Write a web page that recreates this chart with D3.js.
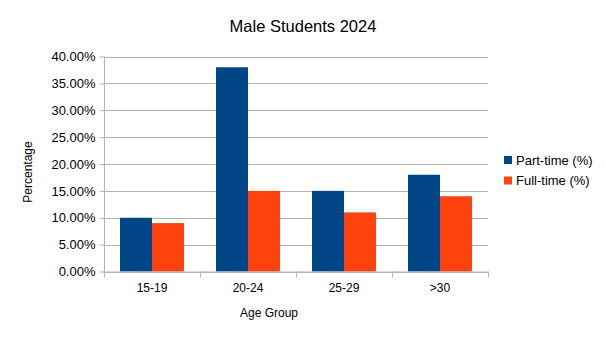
<!DOCTYPE html>
<html><head><meta charset="utf-8">
<script src="https://cdn.jsdelivr.net/npm/d3@7"></script>
<style>body{margin:0;background:#fff}svg{display:block;font-family:"Liberation Sans",Arial,sans-serif}</style>
</head><body><svg id="c" width="605" height="340"></svg>
<script>
const categories = ["15-19","20-24","25-29",">30"];
const partTime = [0.10,0.38,0.15,0.18];
const fullTime = [0.09,0.15,0.11,0.14];
const seriesNames = ["Part-time (%)","Full-time (%)"];
const seriesColors = ["#004586","#ff420e"];
const yTicks = [0,0.05,0.10,0.15,0.20,0.25,0.30,0.35,0.40];

const svg = d3.select("#c");
const L=104,R=488,T=56.5,B=271.5;
const x = d3.scaleBand().domain(categories).range([L,R]).padding(0);
const y = d3.scaleLinear().domain([0,0.40]).range([B,T]);
const gray="#b3b3b3";

// gridlines
svg.append("g").selectAll("line").data(yTicks).join("line")
  .attr("x1",L).attr("x2",R).attr("y1",d=>Math.round(y(d))+0.5).attr("y2",d=>Math.round(y(d))+0.5)
  .attr("stroke",gray).attr("stroke-width",1);

// bars
const bw = x.bandwidth()/3;
const series=[partTime,fullTime];
series.forEach((vals,si)=>{
  svg.append("g").selectAll("rect").data(vals).join("rect")
    .attr("x",(d,i)=>x(categories[i])+x.bandwidth()/6+si*bw)
    .attr("width",bw)
    .attr("y",d=>y(d))
    .attr("height",d=>B-y(d))
    .attr("fill",seriesColors[si]);
});

// y axis
const ya = d3.axisLeft(y).tickValues(yTicks).tickSize(5).tickFormat(d=>d3.format(".2%")(d));
const gy = svg.append("g").attr("transform",`translate(${L+0.5},0)`).call(ya);
gy.select(".domain").attr("stroke",gray).attr("d",`M0,${T}V${B}`);
gy.selectAll(".tick line").attr("stroke",gray);
gy.selectAll(".tick text").attr("font-size",13).attr("fill","#000").attr("x",-9).attr("font-family","Liberation Sans, Arial, sans-serif");

// x axis
const xTickPos = categories.map(c=>x(c)).concat([R]);
const gx = svg.append("g");
gx.append("line").attr("x1",L).attr("x2",R).attr("y1",B+0.5).attr("y2",B+0.5).attr("stroke",gray);
gx.selectAll("line.t").data(xTickPos).join("line").attr("class","t")
  .attr("x1",d=>Math.round(d)+0.5).attr("x2",d=>Math.round(d)+0.5).attr("y1",B).attr("y2",B+6).attr("stroke",gray);
gx.selectAll("text").data(categories).join("text")
  .attr("x",d=>x(d)+x.bandwidth()/2).attr("y",292).attr("text-anchor","middle")
  .attr("font-size",12).text(d=>d);

// titles
svg.append("text").attr("x",303).attr("y",32).attr("text-anchor","middle").attr("font-size",16.5).text("Male Students 2024");
svg.append("text").attr("x",269).attr("y",317).attr("text-anchor","middle").attr("font-size",12).text("Age Group");
svg.append("text").attr("transform",`translate(32,172) rotate(-90)`).attr("text-anchor","middle").attr("font-size",12).text("Percentage");

// legend
const lg = svg.append("g");
seriesNames.forEach((n,i)=>{
  lg.append("rect").attr("x",504).attr("y",156+i*20.5).attr("width",8).attr("height",8).attr("fill",seriesColors[i]);
  lg.append("text").attr("x",516).attr("y",164.5+i*20.5).attr("font-size",13).text(n);
});
</script></body></html>
